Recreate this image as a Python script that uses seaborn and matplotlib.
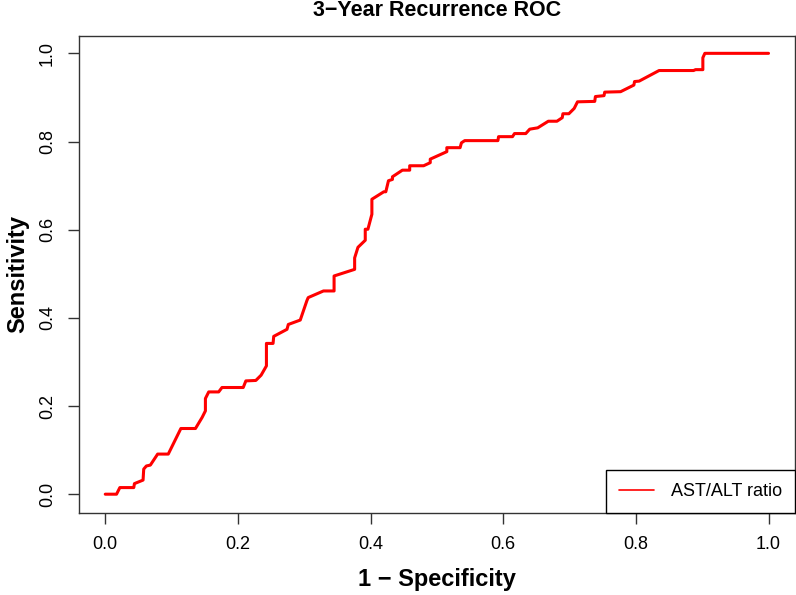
import matplotlib
matplotlib.use("Agg")
import matplotlib.pyplot as plt
import seaborn as sns
import pandas as pd

# ROC points (1 - specificity, sensitivity)
fpr = [0.0, 0.017, 0.022, 0.043, 0.044, 0.057, 0.058, 0.062, 0.068, 0.079,
       0.095, 0.114, 0.136, 0.146, 0.151, 0.151, 0.156, 0.171, 0.176, 0.208,
       0.212, 0.227, 0.235, 0.243, 0.243, 0.253, 0.254, 0.274, 0.276, 0.294,
       0.304, 0.306, 0.329, 0.345, 0.345, 0.376, 0.376, 0.381, 0.392, 0.392,
       0.396, 0.402, 0.402, 0.420, 0.423, 0.427, 0.433, 0.433, 0.448, 0.459,
       0.459, 0.480, 0.490, 0.490, 0.515, 0.515, 0.535, 0.537, 0.542, 0.592,
       0.593, 0.614, 0.617, 0.634, 0.640, 0.652, 0.668, 0.681, 0.689, 0.690,
       0.699, 0.707, 0.712, 0.738, 0.739, 0.752, 0.753, 0.777, 0.797, 0.798,
       0.805, 0.835, 0.887, 0.890, 0.901, 0.901, 0.904, 1.0]
tpr = [0.0, 0.0, 0.015, 0.015, 0.024, 0.032, 0.057, 0.064, 0.066, 0.091,
       0.091, 0.149, 0.149, 0.174, 0.189, 0.217, 0.232, 0.232, 0.242, 0.242,
       0.257, 0.258, 0.270, 0.291, 0.342, 0.342, 0.358, 0.374, 0.385, 0.395,
       0.439, 0.446, 0.461, 0.461, 0.495, 0.510, 0.536, 0.560, 0.576, 0.601,
       0.601, 0.635, 0.669, 0.686, 0.686, 0.711, 0.714, 0.720, 0.735, 0.735,
       0.745, 0.745, 0.752, 0.760, 0.777, 0.786, 0.786, 0.797, 0.802, 0.802,
       0.811, 0.811, 0.818, 0.818, 0.828, 0.831, 0.846, 0.846, 0.854, 0.863,
       0.863, 0.875, 0.890, 0.891, 0.902, 0.904, 0.912, 0.913, 0.928, 0.936,
       0.937, 0.961, 0.961, 0.963, 0.963, 0.990, 1.0, 1.0]
ticks = [0.0, 0.2, 0.4, 0.6, 0.8, 1.0]
tick_labels = ["0.0", "0.2", "0.4", "0.6", "0.8", "1.0"]
series_name = "AST/ALT ratio"

df = pd.DataFrame({"fpr": fpr, "tpr": tpr})

sns.set_style("white")
plt.rcParams["font.family"] = ["Liberation Sans", "DejaVu Sans"]
plt.rcParams["text.color"] = "black"
plt.rcParams["axes.labelcolor"] = "black"
plt.rcParams["xtick.color"] = "black"
plt.rcParams["ytick.color"] = "black"

fig = plt.figure(figsize=(7.96, 5.95), dpi=100)
ax = fig.add_axes([0.0989, 0.1383, 0.8999, 0.8017])

sns.lineplot(data=df, x="fpr", y="tpr", sort=False, estimator=None,
             color="red", linewidth=2.2, label=series_name, ax=ax)

ax.set_xlim(-0.04, 1.04)
ax.set_ylim(-0.042, 1.04)
ax.set_xticks(ticks)
ax.set_xticklabels(tick_labels)
ax.set_yticks(ticks)
ax.set_yticklabels(tick_labels)
plt.setp(ax.get_yticklabels(), rotation=90, va="center")
ax.tick_params(axis="both", direction="out", length=8, width=1,
               color="#333333", labelcolor="black", labelsize=13, pad=8.5,
               bottom=True, left=True)

for sp in ax.spines.values():
    sp.set_visible(True)
    sp.set_color("#333333")
    sp.set_linewidth(1.0)

ax.set_xlabel("1 \u2212 Specificity", fontsize=17, fontweight="bold")
ax.set_ylabel("Sensitivity", fontsize=17, fontweight="bold")
ax.xaxis.set_label_coords(0.5, -0.141)
ax.xaxis.label.set_va("center")
ax.yaxis.set_label_coords(-0.0847, 0.5)
ax.yaxis.label.set_va("center")

fig.text(0.549, 0.983, "3\u2212Year Recurrence ROC", ha="center", va="center",
         fontsize=15.5, fontweight="bold")

leg = ax.legend(loc="lower right", bbox_to_anchor=(1, 0), borderaxespad=0,
                fontsize=13, frameon=True, fancybox=False, framealpha=1,
                edgecolor="black", handlelength=1.95, handletextpad=0.95,
                borderpad=0.7)
leg.get_frame().set_linewidth(1.0)
for h in leg.legend_handles:
    h.set_linewidth(1.2)

fig.savefig("out.png", dpi=100)
